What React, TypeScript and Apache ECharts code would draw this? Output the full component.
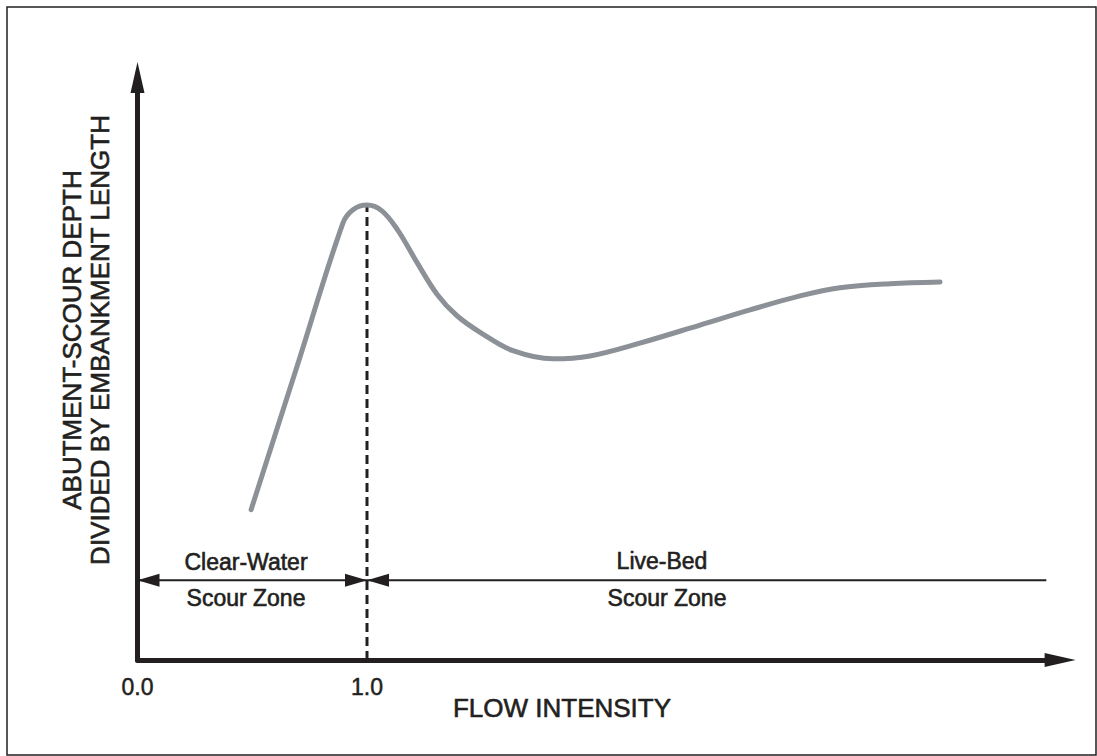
import React, { useEffect, useRef } from "react";
import * as echarts from "echarts";

// Flow intensity (x) and relative scour depth (y, arbitrary units 0..10)
const flowIntensity = [
  0.495, 0.695, 0.895, 0.939, 1.0, 1.065, 1.134, 1.217, 1.305, 1.392, 1.503,
  1.636, 1.81, 1.972, 2.189, 2.451, 2.669, 2.887, 3.061, 3.279, 3.497,
];
const scourDepth = [
  2.58, 5.04, 7.5, 7.73, 7.81, 7.71, 7.38, 6.83, 6.28, 5.91, 5.6,
  5.31, 5.17, 5.22, 5.44, 5.75, 6.01, 6.25, 6.39, 6.46, 6.49,
];
const xTickValues = [0, 1];
const xMin = 0;
const xMax = 4.02;
const yMin = 0;
const yMax = 10;
const thresholdX = 1.0;
const thresholdTopY = 7.81;
const zoneArrowY = 1.37;
const clearWaterRange = [0, 1];
const liveBedRange = [1, 3.96];

const INK = "#231f20";
const CURVE = "#8b9197";
const FONT = "Liberation Sans";

const upArrow = "path://M7,0 L14,31 L0,31 Z";
const leftHead = "path://M22,0 L0,6.5 L22,13 Z";
const rightHead = "path://M0,0 L22,6.5 L0,13 Z";

const textStyle = (text: string, fontSize: number) => ({
  text,
  fontSize,
  fontFamily: FONT,
  fill: INK,
  stroke: INK,
  lineWidth: 0.6,
  align: "center",
  verticalAlign: "middle",
});

export default function App() {
  const ref = useRef<HTMLDivElement>(null);
  useEffect(() => {
    if (!ref.current) return;
    const chart = echarts.init(ref.current, null, { renderer: "svg" });
    const curve = flowIntensity.map((x, i) => [x, scourDepth[i]]);
    chart.setOption({
      animation: false,
      textStyle: { fontFamily: FONT },
      grid: { left: 137.5, right: 36.9, top: 77.5, bottom: 96, outerBoundsMode: "none" },
      xAxis: {
        type: "value",
        min: xMin,
        max: xMax,
        axisLine: {
          show: true,
          onZero: false,
          lineStyle: { color: INK, width: 5 },
          symbol: ["none", upArrow],
          symbolSize: [14, 31],
        },
        axisTick: { show: false },
        splitLine: { show: false },
        axisLabel: {
          customValues: xTickValues,
          formatter: (v: number) => v.toFixed(1),
          color: INK,
          fontSize: 23,
          fontFamily: FONT,
          textBorderColor: INK,
          textBorderWidth: 0.5,
          margin: 15,
        },
      },
      yAxis: {
        type: "value",
        min: yMin,
        max: yMax,
        axisLine: {
          show: true,
          onZero: false,
          lineStyle: { color: INK, width: 5 },
          symbol: ["none", upArrow],
          symbolSize: [14, 31],
        },
        axisTick: { show: false },
        splitLine: { show: false },
        axisLabel: { show: false },
      },
      series: [
        {
          type: "line",
          data: [
            [thresholdX, yMin],
            [thresholdX, thresholdTopY],
          ],
          showSymbol: false,
          silent: true,
          lineStyle: { color: INK, width: 3, type: [9, 5] },
          z: 2,
        },
        {
          type: "line",
          data: [
            [clearWaterRange[0], zoneArrowY],
            [clearWaterRange[1], zoneArrowY],
          ],
          showSymbol: false,
          silent: true,
          lineStyle: { color: INK, width: 2 },
          z: 2,
        },
        {
          type: "line",
          data: [
            [liveBedRange[0], zoneArrowY],
            [liveBedRange[1], zoneArrowY],
          ],
          showSymbol: false,
          silent: true,
          lineStyle: { color: INK, width: 2 },
          z: 2,
        },
        {
          type: "scatter",
          data: [
            [clearWaterRange[0], zoneArrowY],
            [liveBedRange[0], zoneArrowY],
          ],
          symbol: leftHead,
          symbolSize: [22, 13],
          symbolOffset: [11, 0],
          itemStyle: { color: INK, opacity: 1 },
          silent: true,
          z: 3,
        },
        {
          type: "scatter",
          data: [[clearWaterRange[1], zoneArrowY]],
          symbol: rightHead,
          symbolSize: [22, 13],
          symbolOffset: [-11, 0],
          itemStyle: { color: INK, opacity: 1 },
          silent: true,
          z: 3,
        },
        {
          type: "line",
          data: curve,
          smooth: 0.35,
          showSymbol: false,
          silent: true,
          lineStyle: { color: CURVE, width: 5, cap: "round", join: "round" },
          z: 4,
        },
      ],
      graphic: [
        {
          type: "rect",
          shape: { x: 7, y: 7, width: 1089, height: 748 },
          style: { fill: "none", stroke: INK, lineWidth: 1.5 },
          silent: true,
        },
        { type: "text", x: 246, y: 562, style: textStyle("Clear-Water", 23) },
        { type: "text", x: 246, y: 598, style: textStyle("Scour Zone", 23) },
        { type: "text", x: 662, y: 561, style: textStyle("Live-Bed", 23) },
        { type: "text", x: 667, y: 598, style: textStyle("Scour Zone", 23) },
        { type: "text", x: 562, y: 708, style: textStyle("FLOW INTENSITY", 26) },
        {
          type: "text",
          x: 86,
          y: 340,
          rotation: Math.PI / 2,
          style: {
            ...textStyle("ABUTMENT-SCOUR DEPTH\nDIVIDED BY EMBANKMENT LENGTH", 26),
            lineHeight: 28,
          },
        },
      ],
    });
    return () => chart.dispose();
  }, []);
  return (
    <div
      ref={ref}
      style={{ position: "absolute", left: 0, top: 0, width: 1097, height: 756, background: "#fff" }}
    />
  );
}
